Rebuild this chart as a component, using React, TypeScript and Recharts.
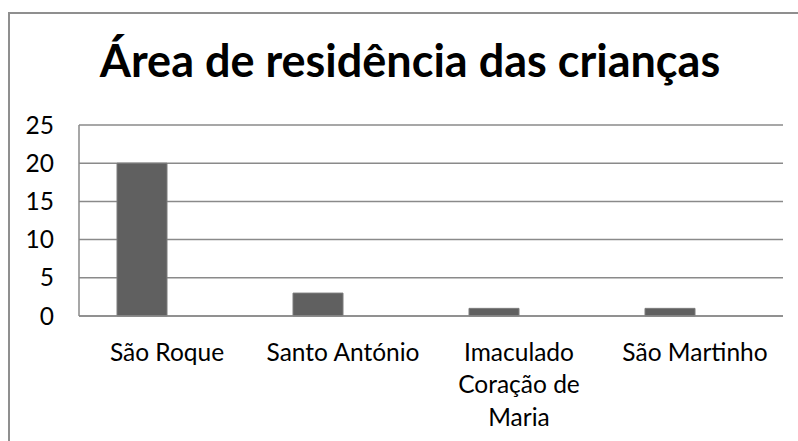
import { Bar, BarChart, CartesianGrid, XAxis, YAxis } from "recharts";

const categorias = ["São Roque", "Santo António", "Imaculado Coração de Maria", "São Martinho"];
// how each category label wraps under the axis
const rotulos = [["São Roque"], ["Santo António"], ["Imaculado", "Coração de", "Maria"], ["São Martinho"]];
const criancas = [20, 3, 1, 1];
// second series of the original workbook is empty, it only reserves space next to each bar
const vazia: (number | null)[] = [null, null, null, null];
const yTicks = [0, 5, 10, 15, 20, 25];

const FONT = "Lato, 'Open Sans', sans-serif";
const GRID = "#8a8a8a";

const data = categorias.map((nome, i) => ({ nome, criancas: criancas[i], vazia: vazia[i] }));

function CategoryTick(props: any) {
  const { x, y, index } = props;
  const lines = rotulos[index] ?? [String(props.payload?.value ?? "")];
  return (
    <text x={x} y={y + 43} textAnchor="middle" style={{ fontFamily: FONT, fontSize: 24.5, fill: "#000" }}>
      {lines.map((line, i) => (
        <tspan key={line} x={x} dy={i === 0 ? 0 : 32.4}>
          {line}
        </tspan>
      ))}
    </text>
  );
}

export default function App() {
  return (
    <div style={{ position: "absolute", left: 0, top: 0, width: 798, height: 441, background: "#fff", overflow: "hidden" }}>
      <div
        style={{
          position: "absolute",
          left: 8,
          top: 12,
          right: -4,
          bottom: -4,
          borderLeft: "2px solid #8f8f8f",
          borderTop: "2px solid #8f8f8f",
        }}
      />
      <svg width={798} height={110} style={{ position: "absolute", left: 0, top: 0 }}>
        <text x={410} y={77} textAnchor="middle" style={{ fontFamily: FONT, fontWeight: 700, fontSize: 45, fill: "#000" }}>
          Área de residência das crianças
        </text>
      </svg>
      <div style={{ position: "absolute", left: 0, top: 0 }}>
        <BarChart
          width={798}
          height={441}
          data={data}
          margin={{ top: 125, right: 15, bottom: 0, left: 0 }}
          barGap={0}
          barSize={50}
        >
          <CartesianGrid vertical={false} stroke={GRID} strokeWidth={1.5} />
          <XAxis
            dataKey="nome"
            height={125}
            tickLine={false}
            tickSize={0}
            axisLine={{ stroke: GRID, strokeWidth: 1.5 }}
            tick={<CategoryTick />}
            interval={0}
          />
          <YAxis
            width={79}
            domain={[0, 25]}
            ticks={yTicks}
            tickLine={false}
            tickSize={0}
            tickMargin={25}
            axisLine={{ stroke: GRID, strokeWidth: 1.5 }}
            tick={{ fontFamily: FONT, fontSize: 24.5, fill: "#000" }}
          />
          <Bar dataKey="criancas" fill="#606060" stroke="#7c7c7c" strokeWidth={1} isAnimationActive={false} />
          <Bar dataKey="vazia" fill="#a0a0a0" isAnimationActive={false} />
        </BarChart>
      </div>
    </div>
  );
}
